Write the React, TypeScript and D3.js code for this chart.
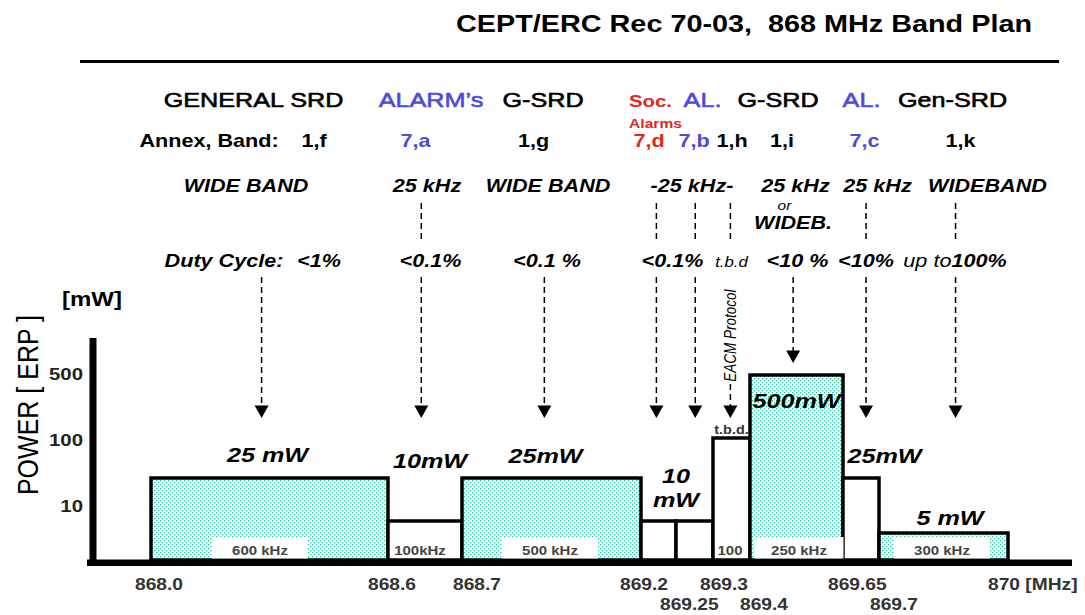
import React from 'react';
import * as d3 from 'd3';

// CEPT/ERC Rec 70-03, 868-870 MHz sub-bands
const bandEdges = [868.0, 868.6, 868.7, 869.2, 869.25, 869.3, 869.4, 869.65, 869.7, 870.0];
const bandPower = [25, 10, 25, 10, 10, 100, 500, 25, 5]; // mW ERP (869.3-869.4 is t.b.d.)
const bandShaded = [true, false, true, false, false, false, true, false, true];
const bandWidthLabels = ['600 kHz', '100kHz', '500 kHz', '', '', '100', '250 kHz', '', '300 kHz'];
const powerLabels = ['25 mW', '10mW', '25mW', '10|mW', '', 't.b.d.', '500mW', '25mW', '5 mW'];

const powerTicks = [10, 100, 500];
const freqTickLabels = ['868.0', '868.6', '868.7', '869.2', '869.25', '869.3', '869.4', '869.65', '869.7', '870 [MHz]'];
const freqTickRow = [0, 0, 0, 0, 1, 0, 1, 0, 1, 0];

const services = ['GENERAL SRD', 'ALARM\u2019s', 'G-SRD', 'Soc.', 'AL.', 'G-SRD', 'AL.', 'Gen-SRD'];
const annexBands = ['1,f', '7,a', '1,g', '7,d', '7,b', '1,h', '1,i', '7,c', '1,k'];
const channelSpacing = ['WIDE BAND', '25 kHz', 'WIDE BAND', '-25 kHz-', '25 kHz', '25 kHz', 'WIDEBAND'];
const dutyCycles = ['<1%', '<0.1%', '<0.1 %', '<0.1%', 't.b.d', '<10 %', '<10%', '100%'];

// arrow columns, MHz position
const arrowFreq = [868.28, 868.645, 868.93, 869.222, 869.276, 869.347, 869.516, 869.682, 869.878];
const arrowUpper = [false, true, false, true, true, true, false, true, true];

// ---- layout ----
const W = 1085;
const H = 615;
const SX = 1.2; // the picture is horizontally stretched
const BASE = 560;
const BLUE = '#4b4bdc';
const RED = '#e0281c';
const TEAL = '#26c6a4';
const FONT = '"Liberation Sans", Arial, Helvetica, sans-serif';

const edgePx = [151, 388, 462, 641, 676, 713, 750, 843, 879, 1008];
const x = d3.scaleLinear().domain(bandEdges).range(edgePx);
const y = d3.scaleLog().domain([5, 10, 25, 100, 500]).range([533, 521, 478, 438, 375]);
const tickY = d3.scaleLog().domain(powerTicks).range([506, 440, 374]);

const freqTickNudge = [-16, -20, -9, -21, -16, -13, -10, -15, -9, -20];
const serviceX = [253.5, 431, 543, 650.5, 702.5, 778, 861.5, 952.5];
const serviceColor = ['#000', BLUE, '#000', RED, BLUE, '#000', BLUE, '#000'];
const annexX = [314, 415.5, 533.5, 649, 694, 732, 782, 864.5, 960.5];
const annexColor = ['#000', BLUE, '#000', RED, BLUE, '#000', '#000', BLUE, '#000'];
const channelX = [246, 427, 548, 692, 795.5, 877.5, 987.5];
const dutyX = [319, 430.5, 547, 672.5, 731.5, 797.5, 866, 975];
const powerDx = [-2, 5, -6, 17.5, 0, 0, 0, 23.5, 6.5];
const powerDy = [-16, -53, -15, -38, 0, -4, 33, -15, -8];
const widthDx = [-9.5, -5, -1.5, 0, 0, -1.5, 2.5, 0, -1.5];

function Txt({ x, y, size, bold = false, italic = false, fill = '#000', anchor = 'middle', rotate = 0, heavy = 0, children }: any) {
  const tf = `translate(${x},${y}) scale(${SX},1)` + (rotate ? ` rotate(${rotate})` : '');
  return (
    <text transform={tf} fontSize={size} fontWeight={bold ? 'bold' : 'normal'}
      fontStyle={italic ? 'italic' : 'normal'} fill={fill} textAnchor={anchor}
      stroke={heavy ? fill : 'none'} strokeWidth={heavy} style={{ whiteSpace: 'pre' }}>
      {children}
    </text>
  );
}

function Dash({ x0, y0, y1 }: any) {
  return <line x1={x0} x2={x0} y1={y0} y2={y1} stroke="#000" strokeWidth={1.5} strokeDasharray="6,4" />;
}

export default function App() {
  const bands = bandPower.map((p, i) => ({
    x0: x(bandEdges[i]),
    x1: x(bandEdges[i + 1]),
    top: y(p),
    shaded: bandShaded[i],
    widthLabel: bandWidthLabels[i],
    powerLabel: powerLabels[i],
  }));

  return (
    <svg width={W} height={H} style={{ position: 'fixed', left: 0, top: 0, background: '#fff' }} fontFamily={FONT}>
      <defs>
        <pattern id="dots" width={4} height={4} patternUnits="userSpaceOnUse">
          <rect width={4} height={4} fill="#fff" />
          <rect x={0} y={0} width={1.3} height={1.3} fill={TEAL} />
          <rect x={2} y={2} width={1.3} height={1.3} fill={TEAL} />
        </pattern>
      </defs>

      {/* title */}
      <Txt x={744} y={32} size={24} bold>{'CEPT/ERC Rec 70-03,  868 MHz Band Plan'}</Txt>
      <line x1={80} x2={1059} y1={61.5} y2={61.5} stroke="#000" strokeWidth={3} />

      {/* service row */}
      {services.map((s, i) => (
        <Txt key={'s' + i} x={serviceX[i]} y={107} size={s === 'Soc.' ? 17 : 21} bold={s === 'Soc.'}
          heavy={s === 'Soc.' ? 0 : 0.6} fill={serviceColor[i]}>{s}</Txt>
      ))}
      <Txt x={655.5} y={128} size={13} bold fill={RED}>Alarms</Txt>

      {/* annex row */}
      <Txt x={209} y={147} size={18} bold>Annex, Band:</Txt>
      {annexBands.map((s, i) => (
        <Txt key={'a' + i} x={annexX[i]} y={147} size={18} bold fill={annexColor[i]}>{s}</Txt>
      ))}

      {/* channel spacing row */}
      {channelSpacing.map((s, i) => (
        <Txt key={'c' + i} x={channelX[i]} y={192} size={18} bold italic>{s}</Txt>
      ))}
      <Txt x={784.5} y={210} size={13} italic>or</Txt>
      <Txt x={793} y={229} size={18} bold italic>WIDEB.</Txt>

      {/* duty cycle row */}
      <Txt x={224} y={267} size={18} bold italic>Duty Cycle:</Txt>
      {dutyCycles.map((s, i) => s === 't.b.d' ? (
        <Txt key={'d' + i} x={dutyX[i]} y={267} size={14} italic>{s}</Txt>
      ) : i === dutyCycles.length - 1 ? (
        <Txt key={'d' + i} x={dutyX[i] - 20} y={267} size={18} bold italic>
          <tspan fontWeight="normal">up to</tspan>{s}
        </Txt>
      ) : (
        <Txt key={'d' + i} x={dutyX[i]} y={267} size={18} bold italic>{s}</Txt>
      ))}

      {/* dashed arrows */}
      {arrowFreq.map((f, i) => {
        const ax = x(f);
        const tip = Math.min(418, y(bandPower[i]) - 12);
        const eacm = bandPower[i] === 100;
        return (
          <g key={'ar' + i}>
            {arrowUpper[i] && <Dash x0={ax} y0={203} y1={243} />}
            {eacm ? (
              <>
                <Txt x={ax + 6} y={335.5} size={13.5} italic rotate={-90}>EACM Protocol</Txt>
                <Dash x0={ax} y0={384} y1={tip - 12} />
              </>
            ) : (
              <Dash x0={ax} y0={277} y1={tip - 12} />
            )}
            <path d={`M${ax - 7},${tip - 12.5}L${ax + 7},${tip - 12.5}L${ax},${tip}Z`} fill="#000" />
          </g>
        );
      })}

      {/* bands */}
      {bands.map((b, i) => (
        <rect key={'b' + i} x={b.x0} y={b.top} width={b.x1 - b.x0} height={BASE - b.top}
          fill={b.shaded ? 'url(#dots)' : '#fff'} stroke="#000" strokeWidth={3.5} />
      ))}
      {bands.map((b, i) => {
        if (!b.widthLabel) return null;
        const cx = (b.x0 + b.x1) / 2 + widthDx[i];
        const inner = b.x1 - b.x0 - 4;
        const bw = Math.min(inner, 96);
        return (
          <g key={'w' + i}>
            {b.shaded && <rect x={Math.max(cx - bw / 2, b.x0 + 2)} y={537} width={bw} height={BASE - 538.5} fill="#fff" />}
            <Txt x={cx} y={555} size={12.5} bold fill="#444">{b.widthLabel}</Txt>
          </g>
        );
      })}
      {bands.map((b, i) => {
        if (!b.powerLabel) return null;
        const cx = (b.x0 + b.x1) / 2 + powerDx[i];
        const by = b.top + powerDy[i];
        if (b.powerLabel === 't.b.d.') {
          return <Txt key={'p' + i} x={cx} y={by} size={12} bold fill="#333">{b.powerLabel}</Txt>;
        }
        const lines = b.powerLabel.split('|');
        return (
          <g key={'p' + i}>
            {lines.map((l, j) => (
              <Txt key={j} x={cx} y={by + j * 24} size={21} bold italic>{l}</Txt>
            ))}
          </g>
        );
      })}

      {/* axes */}
      <rect x={87} y={559.5} width={1072 - 87} height={6.5} fill="#000" />
      <rect x={89.5} y={338} width={7} height={566 - 338} fill="#000" />
      {powerTicks.map((t) => (
        <Txt key={'yt' + t} x={83} y={tickY(t) + 6} size={17} bold anchor="end" fill="#222">{t}</Txt>
      ))}
      {freqTickLabels.map((l, i) => (
        <Txt key={'xt' + i} x={x(bandEdges[i]) + freqTickNudge[i]} y={freqTickRow[i] ? 610 : 590}
          size={16} bold anchor="start" fill="#333">{l}</Txt>
      ))}
      <Txt x={92} y={306} size={20} bold>[mW]</Txt>
      <Txt x={38} y={405} size={25} rotate={-90}>POWER [ ERP ]</Txt>
    </svg>
  );
}
